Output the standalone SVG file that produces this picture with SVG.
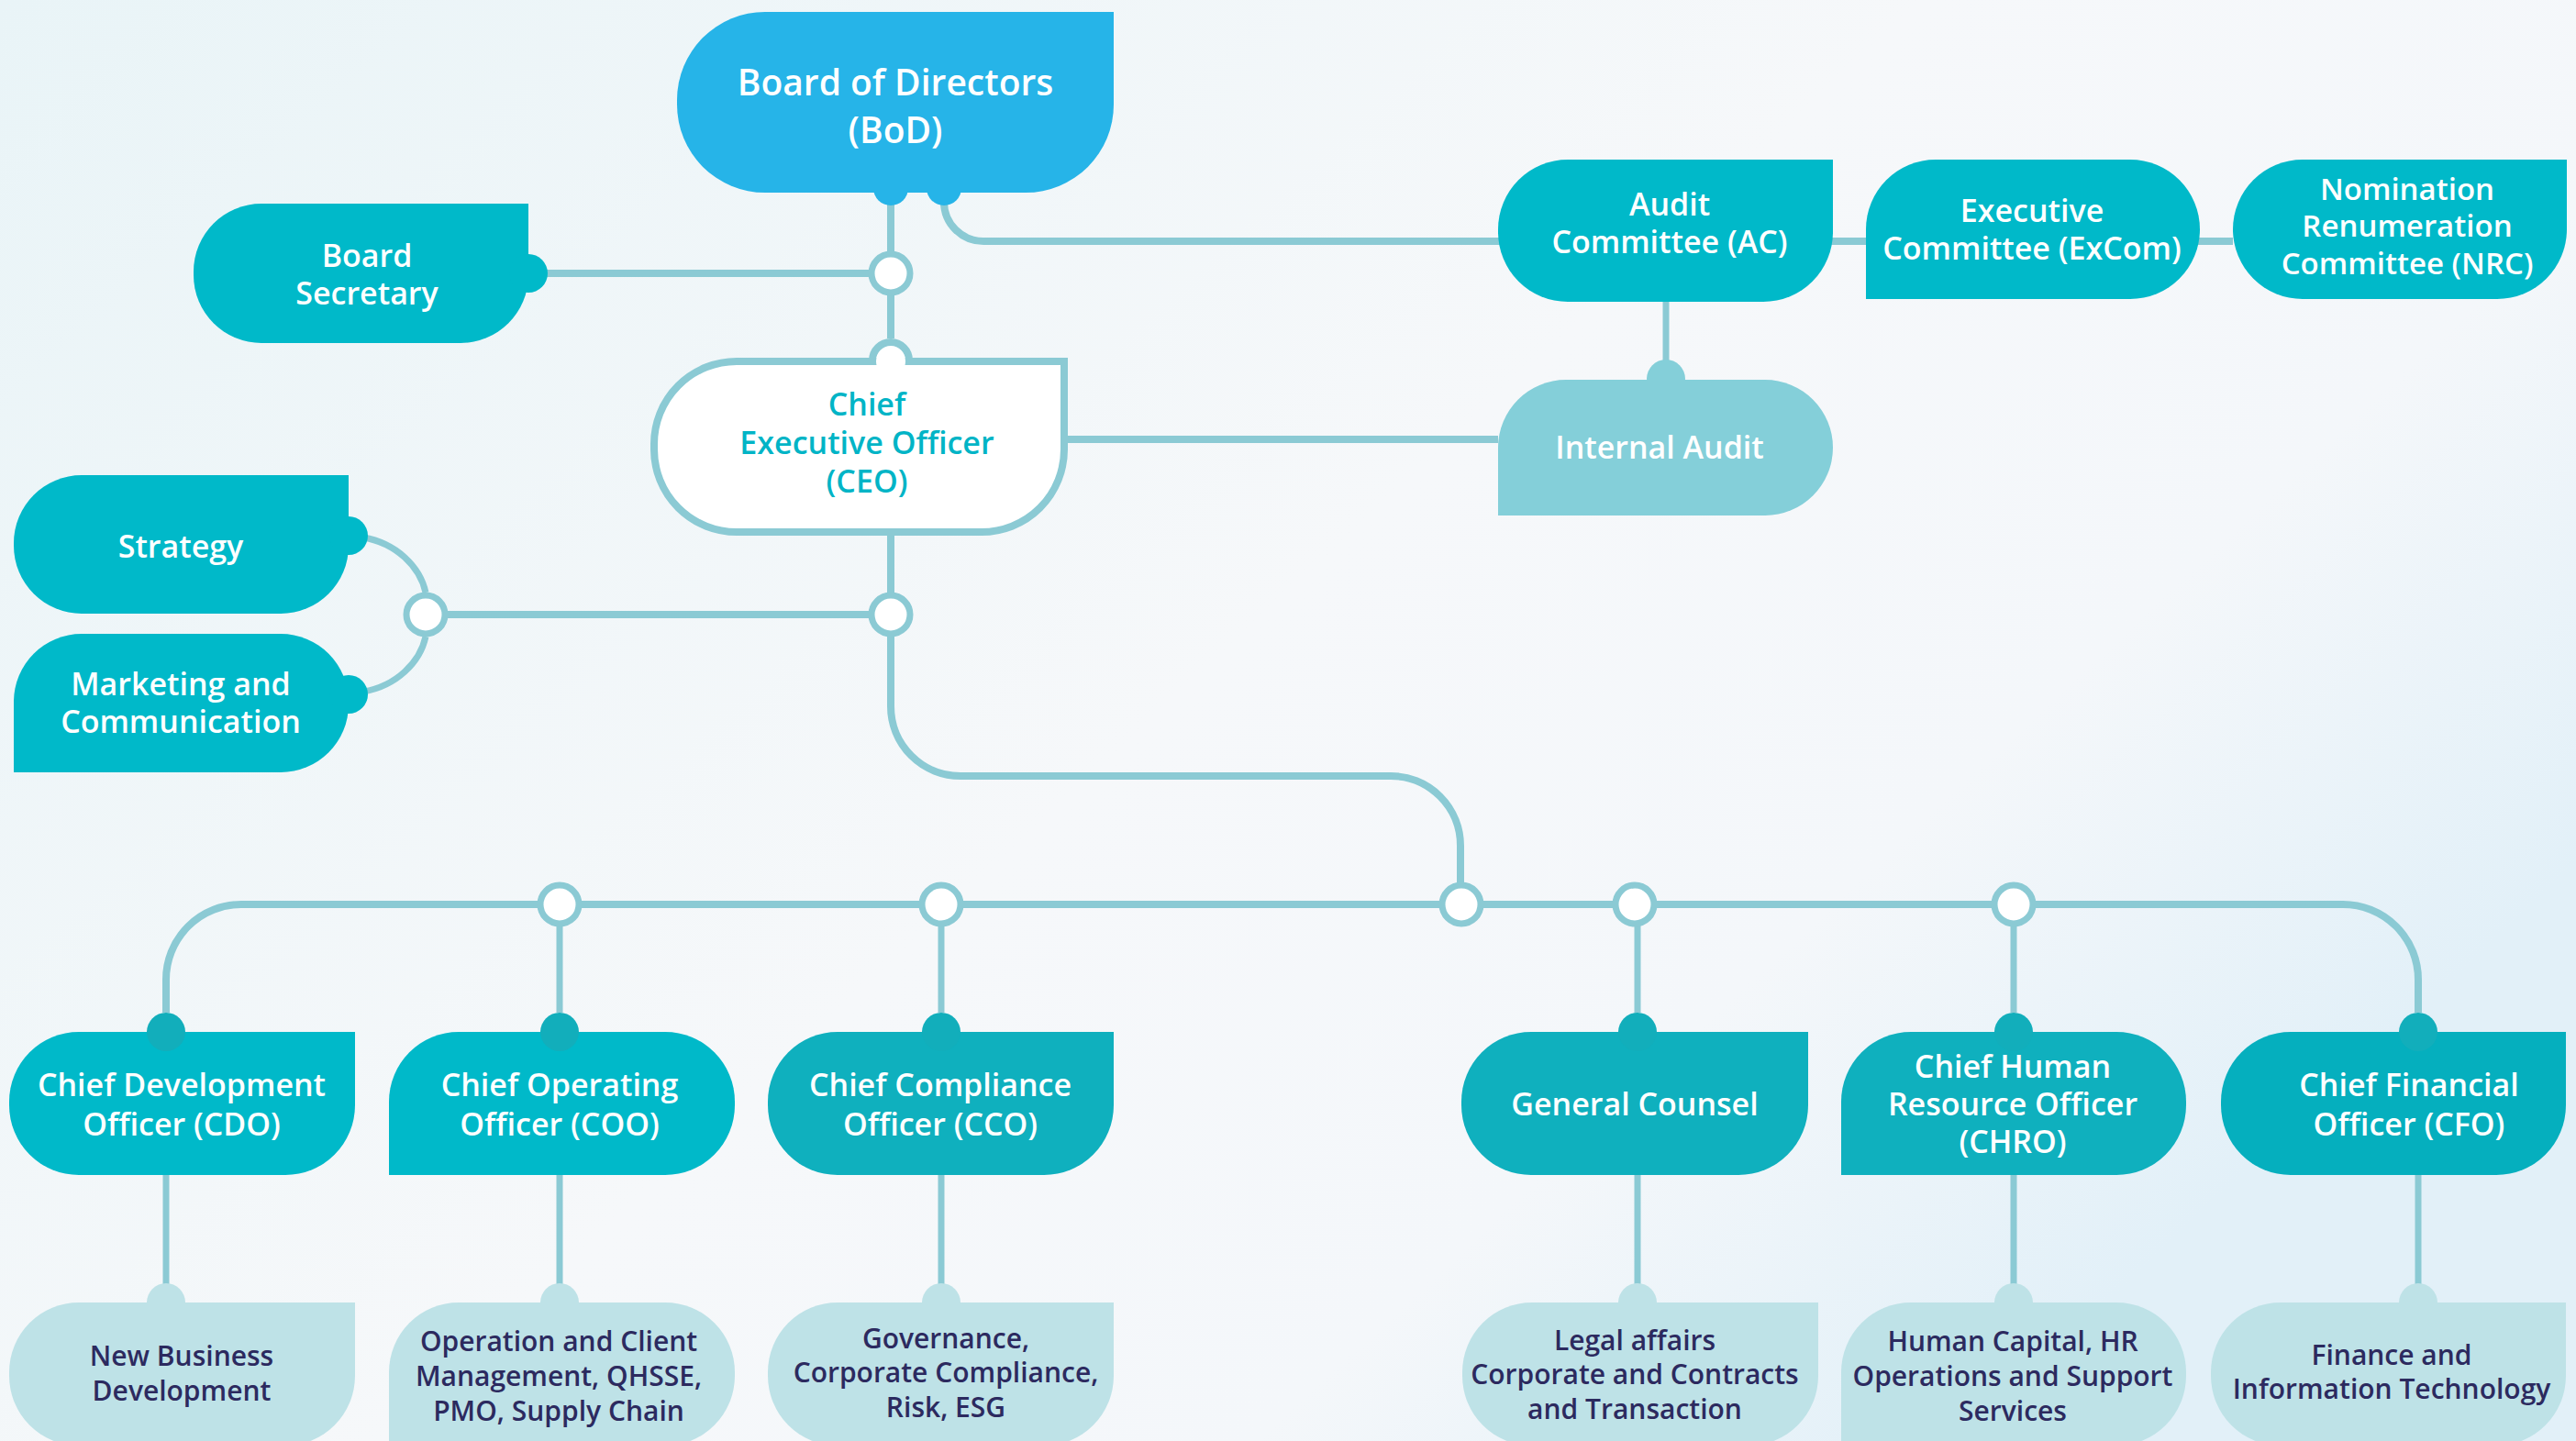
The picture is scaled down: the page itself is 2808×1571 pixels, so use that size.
<svg xmlns="http://www.w3.org/2000/svg" width="2808" height="1571" viewBox="0 0 2808 1571">
<defs>
<linearGradient id="bg" x1="0" y1="0" x2="1" y2="0.6">
<stop offset="0" stop-color="#E9F4F7"/>
<stop offset="0.55" stop-color="#F6F8FA"/>
<stop offset="0.8" stop-color="#F4F7FA"/>
<stop offset="1" stop-color="#E2F0F8"/>
</linearGradient>
<style>
.ln{fill:none;stroke:#8BCAD4;stroke-width:8}
.ln2{fill:none;stroke:#8BCAD4;stroke-width:7}
.jn{fill:#fff;stroke:#8BCAD4;stroke-width:7}
.t{font-family:"Open Sans","Noto Sans",sans-serif;font-weight:600;text-anchor:middle;dominant-baseline:central}
.w{fill:#fff}
.big{font-size:39px}
.md{font-size:34px}
.sm{font-size:30px;fill:#2C2A5F}
.teal{fill:#00B9C9}
.dk{fill:#0FB0BE}
.sub{fill:#BEE2E7}
.bump{fill:#12AEBB}
</style>
</defs>
<rect width="2808" height="1571" fill="url(#bg)"/>

<g id="connectors">
<path class="ln" d="M971 205 V369"/>
<path class="ln" d="M576 298 H971"/>
<path class="ln" d="M1029 205 V220 A43 43 0 0 0 1072 263 H2434"/>
<path class="ln2" d="M1816 329 V400"/>
<path class="ln" d="M1160 479 H1633"/>
<path class="ln" d="M971 584 V670"/>
<path class="ln" d="M464 670 H971"/>
<path class="ln2" d="M396 586 C432 592 458 618 464 646"/>
<path class="ln2" d="M396 754 C432 748 458 722 464 694"/>
<path class="ln" d="M971 670 V770 A76 76 0 0 0 1047 846 H1516 A76 76 0 0 1 1592 922 V986"/>
<path class="ln" d="M181 1104 V1068 A82 82 0 0 1 263 986 H2554 A82 82 0 0 1 2636 1068 V1104"/>
<path class="ln2" d="M610 986 V1104 M1026 986 V1104 M1785 986 V1104 M2195 986 V1104"/>
<path class="ln2" d="M181 1281 V1400 M610 1281 V1400 M1026 1281 V1400 M1785 1281 V1400 M2195 1281 V1400 M2636 1281 V1400"/>
<circle class="jn" cx="971" cy="298" r="21"/>
<circle class="jn" cx="464" cy="670" r="21"/>
<circle class="jn" cx="971" cy="670" r="21"/>
<circle class="jn" cx="610" cy="986" r="21"/>
<circle class="jn" cx="1026" cy="986" r="21"/>
<circle class="jn" cx="1593" cy="986" r="21"/>
<circle class="jn" cx="1782" cy="986" r="21"/>
<circle class="jn" cx="2195" cy="986" r="21"/>
</g>

<g id="bod">
<circle cx="971" cy="205" r="19" fill="#26B4E8"/>
<circle cx="1029" cy="205" r="19" fill="#26B4E8"/>
<path fill="#26B4E8" d="M834 13 H1214 V114 A96 96 0 0 1 1118 210 H834 A96 96 0 0 1 738 114 V109 A96 96 0 0 1 834 13 Z"/>
<text class="t w big" x="976" y="88">Board of Directors</text>
<text class="t w big" x="976" y="140">(BoD)</text>
</g>

<g id="board-secretary">
<path class="teal" d="M285 222 H576 V300 A74 74 0 0 1 502 374 H285 A74 74 0 0 1 211 300 V296 A74 74 0 0 1 285 222 Z"/>
<circle class="teal" cx="576" cy="298" r="21"/>
<text class="t w md" x="400" y="278">Board</text>
<text class="t w md" x="400" y="319">Secretary</text>
</g>

<g id="strategy">
<path class="teal" d="M89 518 H380 V595 A74 74 0 0 1 306 669 H89 A74 74 0 0 1 15 595 V592 A74 74 0 0 1 89 518 Z"/>
<circle class="teal" cx="380" cy="584" r="21"/>
<text class="t w md" x="197" y="595">Strategy</text>
</g>

<g id="marketing">
<path class="teal" d="M89 691 H306 A74 74 0 0 1 380 765 V768 A74 74 0 0 1 306 842 H15 V765 A74 74 0 0 1 89 691 Z"/>
<circle class="teal" cx="380" cy="757" r="21"/>
<text class="t w md" x="197" y="745">Marketing and</text>
<text class="t w md" x="197" y="786">Communication</text>
</g>

<g id="ceo">
<circle cx="971" cy="393" r="20" fill="#fff" stroke="#8BCAD4" stroke-width="8"/>
<path fill="#fff" stroke="#8BCAD4" stroke-width="8" d="M803 394 H1160 V490 A90 90 0 0 1 1070 580 H803 A90 90 0 0 1 713 490 V484 A90 90 0 0 1 803 394 Z"/>
<circle cx="971" cy="394" r="16" fill="#fff"/>
<text class="t" font-size="34" fill="#00B4C6" x="945" y="440">Chief</text>
<text class="t" font-size="34" fill="#00B4C6" x="945" y="482">Executive Officer</text>
<text class="t" font-size="34" fill="#00B4C6" x="945" y="524">(CEO)</text>
</g>

<g id="audit-committee">
<path class="teal" d="M1709 174 H1998 V253 A76 76 0 0 1 1922 329 H1709 A76 76 0 0 1 1633 253 V250 A76 76 0 0 1 1709 174 Z"/>
<text class="t w md" x="1820" y="222">Audit</text>
<text class="t w md" x="1820" y="263">Committee (AC)</text>
</g>

<g id="excom">
<path class="teal" d="M2110 174 H2322 A76 76 0 0 1 2398 250 A76 76 0 0 1 2322 326 H2034 V250 A76 76 0 0 1 2110 174 Z"/>
<text class="t w md" x="2215" y="229">Executive</text>
<text class="t w md" x="2215" y="270">Committee (ExCom)</text>
</g>

<g id="nrc">
<path class="teal" d="M2510 174 H2798 V250 A76 76 0 0 1 2722 326 H2510 A76 76 0 0 1 2434 250 A76 76 0 0 1 2510 174 Z"/>
<text class="t w" font-size="33" x="2624" y="205">Nomination</text>
<text class="t w" font-size="33" x="2624" y="245">Renumeration</text>
<text class="t w" font-size="33" x="2624" y="286">Committee (NRC)</text>
</g>

<g id="internal-audit">
<circle cx="1816" cy="413" r="21" fill="#84CFD9"/>
<path fill="#84CFD9" d="M1707 414 H1924 A74 74 0 0 1 1998 488 A74 74 0 0 1 1924 562 H1633 V488 A74 74 0 0 1 1707 414 Z"/>
<text class="t w md" x="1809" y="487">Internal Audit</text>
</g>

<g id="cdo">
<path class="teal" d="M86 1125 H387 V1205 A76 76 0 0 1 311 1281 H86 A76 76 0 0 1 10 1205 V1201 A76 76 0 0 1 86 1125 Z"/>
<circle class="bump" cx="181" cy="1125" r="21"/>
<text class="t w md" x="198" y="1182">Chief Development</text>
<text class="t w md" x="198" y="1225">Officer (CDO)</text>
</g>

<g id="coo">
<path class="teal" d="M500 1125 H725 A76 76 0 0 1 801 1201 V1205 A76 76 0 0 1 725 1281 H424 V1201 A76 76 0 0 1 500 1125 Z"/>
<circle class="bump" cx="610" cy="1125" r="21"/>
<text class="t w md" x="610" y="1182">Chief Operating</text>
<text class="t w md" x="610" y="1225">Officer (COO)</text>
</g>

<g id="cco">
<path class="dk" d="M913 1125 H1214 V1205 A76 76 0 0 1 1138 1281 H913 A76 76 0 0 1 837 1205 V1201 A76 76 0 0 1 913 1125 Z"/>
<circle class="bump" cx="1026" cy="1125" r="21"/>
<text class="t w md" x="1025" y="1182">Chief Compliance</text>
<text class="t w md" x="1025" y="1225">Officer (CCO)</text>
</g>

<g id="general-counsel">
<path class="dk" d="M1669 1125 H1971 V1205 A76 76 0 0 1 1895 1281 H1669 A76 76 0 0 1 1593 1205 V1201 A76 76 0 0 1 1669 1125 Z"/>
<circle class="bump" cx="1785" cy="1125" r="21"/>
<text class="t w md" x="1782" y="1203">General Counsel</text>
</g>

<g id="chro">
<path class="dk" d="M2083 1125 H2307 A76 76 0 0 1 2383 1201 V1205 A76 76 0 0 1 2307 1281 H2007 V1201 A76 76 0 0 1 2083 1125 Z"/>
<circle class="bump" cx="2195" cy="1125" r="21"/>
<text class="t w md" x="2194" y="1162">Chief Human</text>
<text class="t w md" x="2194" y="1203">Resource Officer</text>
<text class="t w md" x="2194" y="1244">(CHRO)</text>
</g>

<g id="cfo">
<path fill="#05AFBE" d="M2497 1125 H2797 V1205 A76 76 0 0 1 2721 1281 H2497 A76 76 0 0 1 2421 1205 V1201 A76 76 0 0 1 2497 1125 Z"/>
<circle class="bump" cx="2636" cy="1125" r="21"/>
<text class="t w md" x="2626" y="1182">Chief Financial</text>
<text class="t w md" x="2626" y="1225">Officer (CFO)</text>
</g>

<g id="new-business">
<circle class="sub" cx="181" cy="1420" r="21"/>
<path class="sub" d="M86 1420 H387 V1500 A76 76 0 0 1 311 1576 H86 A76 76 0 0 1 10 1500 V1496 A76 76 0 0 1 86 1420 Z"/>
<text class="t sm" x="198" y="1477">New Business</text>
<text class="t sm" x="198" y="1515">Development</text>
</g>

<g id="operations">
<circle class="sub" cx="610" cy="1420" r="21"/>
<path class="sub" d="M500 1420 H725 A76 76 0 0 1 801 1496 V1500 A76 76 0 0 1 725 1576 H424 V1496 A76 76 0 0 1 500 1420 Z"/>
<text class="t sm" x="609" y="1461">Operation and Client</text>
<text class="t sm" x="609" y="1499">Management, QHSSE,</text>
<text class="t sm" x="609" y="1537">PMO, Supply Chain</text>
</g>

<g id="governance">
<circle class="sub" cx="1026" cy="1420" r="21"/>
<path class="sub" d="M913 1420 H1214 V1500 A76 76 0 0 1 1138 1576 H913 A76 76 0 0 1 837 1500 V1496 A76 76 0 0 1 913 1420 Z"/>
<text class="t sm" x="1031" y="1458">Governance,</text>
<text class="t sm" x="1031" y="1495">Corporate Compliance,</text>
<text class="t sm" x="1031" y="1533">Risk, ESG</text>
</g>

<g id="legal">
<circle class="sub" cx="1785" cy="1420" r="21"/>
<path class="sub" d="M1670 1420 H1982 V1500 A76 76 0 0 1 1906 1576 H1670 A76 76 0 0 1 1594 1500 V1496 A76 76 0 0 1 1670 1420 Z"/>
<text class="t sm" x="1782" y="1460">Legal affairs</text>
<text class="t sm" x="1782" y="1497">Corporate and Contracts</text>
<text class="t sm" x="1782" y="1535">and Transaction</text>
</g>

<g id="human-capital">
<circle class="sub" cx="2195" cy="1420" r="21"/>
<path class="sub" d="M2083 1420 H2307 A76 76 0 0 1 2383 1496 V1500 A76 76 0 0 1 2307 1576 H2007 V1496 A76 76 0 0 1 2083 1420 Z"/>
<text class="t sm" x="2194" y="1461">Human Capital, HR</text>
<text class="t sm" x="2194" y="1499">Operations and Support</text>
<text class="t sm" x="2194" y="1537">Services</text>
</g>

<g id="finance">
<circle class="sub" cx="2636" cy="1420" r="21"/>
<path class="sub" d="M2486 1420 H2797 V1500 A76 76 0 0 1 2721 1576 H2486 A76 76 0 0 1 2410 1500 V1496 A76 76 0 0 1 2486 1420 Z"/>
<text class="t sm" x="2607" y="1476">Finance and</text>
<text class="t sm" x="2607" y="1513">Information Technology</text>
</g>
</svg>
